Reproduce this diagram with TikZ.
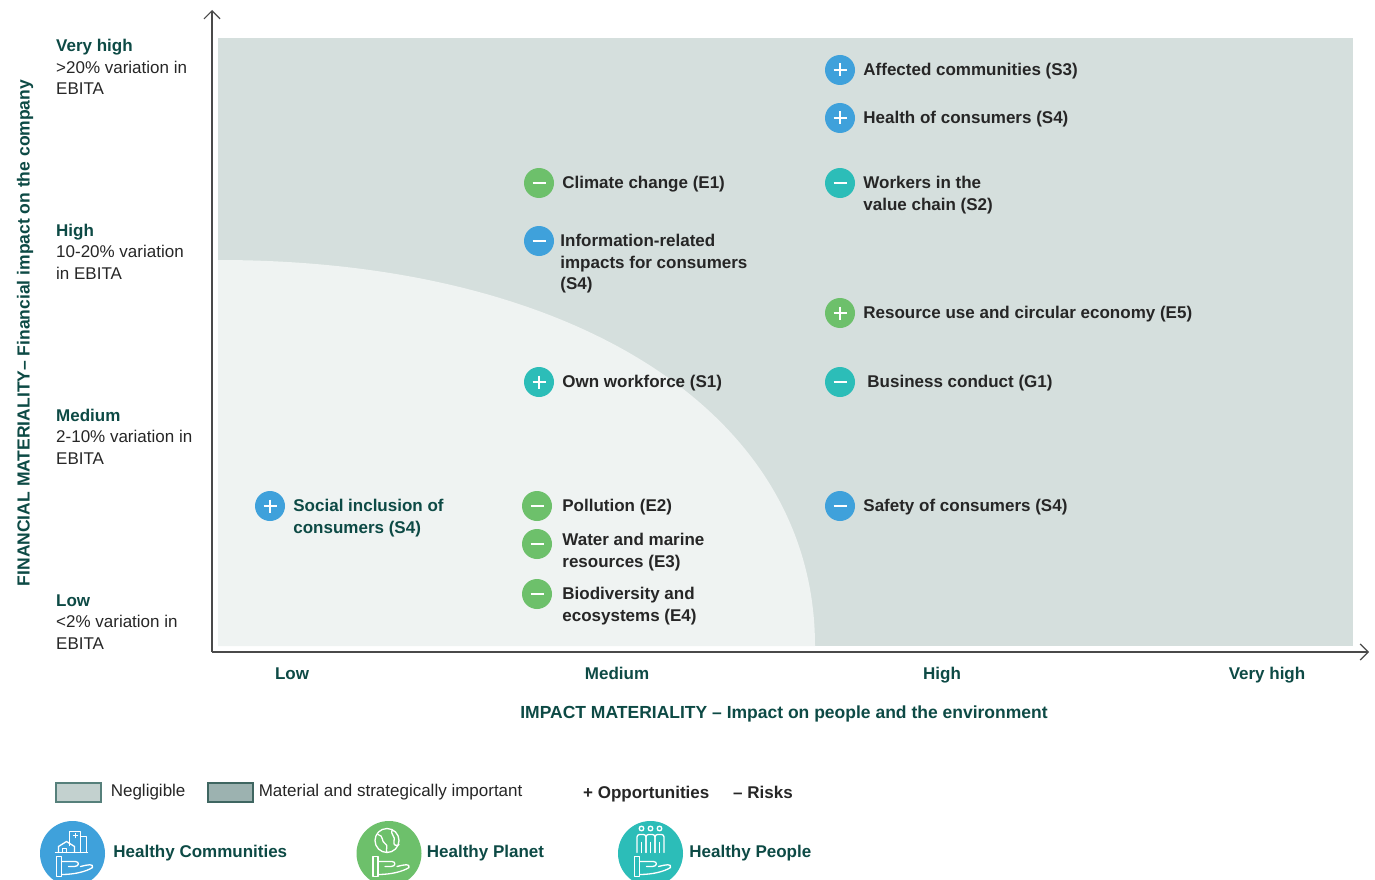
\documentclass[tikz,border=0pt]{standalone}
\usepackage{fontspec}
\setmainfont{Liberation Sans}
\usetikzlibrary{positioning,arrows.meta}
\definecolor{deep}{HTML}{0D4A45}
\definecolor{ink}{HTML}{262626}
\definecolor{panelC}{HTML}{D5DFDD}
\definecolor{negC}{HTML}{EFF3F2}
\definecolor{axisC}{HTML}{4A4A4A}
\definecolor{blueC}{HTML}{3FA1DB}
\definecolor{greenC}{HTML}{6DC06B}
\definecolor{tealC}{HTML}{2CBDB8}
\definecolor{negSw}{HTML}{C3D1CF}
\definecolor{negEdge}{HTML}{56807B}
\definecolor{matSw}{HTML}{9CB2B0}
\definecolor{matEdge}{HTML}{3F6661}

\begin{document}
\begin{tikzpicture}[x=1pt, y=-1pt,
  axis/.style={draw=axisC, line width=1.4pt, -{Straight Barb[length=8pt,width=16pt,line width=1.2pt]}},
  bubble/.style={circle, fill=#1, minimum size=30pt, inner sep=0pt},
  opp/.style={bubble=#1, path picture={\draw[white, line width=2.6pt] (path picture bounding box.center) +(-6.5,0) -- +(6.5,0) +(0,-6.5) -- +(0,6.5);}},
  risk/.style={bubble=#1, path picture={\draw[white, line width=2.6pt] (path picture bounding box.center) +(-6.5,0) -- +(6.5,0);}},
  topic/.style={inner sep=0pt, align=left, text=ink, font=\fontsize{17}{21.5}\selectfont\bfseries},
  level/.style={anchor=base west, inner sep=0pt, align=left, text=ink, font=\fontsize{17}{21.3}\selectfont},
  tick/.style={anchor=base, inner sep=0pt, text=deep, font=\fontsize{17}{20}\selectfont\bfseries},
  title/.style={inner sep=0pt, text=deep, font=\fontsize{17.5}{20}\selectfont\bfseries},
  swatch/.style={draw=#1, line width=1.2pt, minimum width=45pt, minimum height=19pt, inner sep=0pt},
  legtext/.style={inner sep=0pt, text=ink, font=\fontsize{17}{20}\selectfont},
  goal/.style={circle, fill=#1, minimum size=65pt, inner sep=0pt},
  goaltext/.style={inner sep=0pt, text=deep, font=\fontsize{17}{20}\selectfont\bfseries},
  glyph/.style={white, line width=1.3pt, line cap=round, line join=round}]
\useasboundingbox (0,0) rectangle (1375,880);

\fill[panelC] (218,38) rectangle (1353,646);
\fill[negC] (218,646) -- (218,260) .. controls (576,260) and (815,414) .. (815,646) -- cycle;

\coordinate (o) at (212,652);
\coordinate (ytip) at (212,10);
\coordinate (xtip) at (1369,652);
\draw[axis] (o) -- (ytip);
\draw[axis] (o) -- (xtip);

\node[title, rotate=90] (ytitle) at (25,333) {FINANCIAL MATERIALITY– Financial impact on the company};
\node[level] (vhigh) at (56,94.6) {\textcolor{deep}{\bfseries Very high}\\>20\% variation in\\EBITA};
\node[level] (high) at (56,279) {\textcolor{deep}{\bfseries High}\\10-20\% variation\\in EBITA};
\node[level] (med) at (56,464) {\textcolor{deep}{\bfseries Medium}\\2-10\% variation in\\EBITA};
\node[level] (low) at (56,649) {\textcolor{deep}{\bfseries Low}\\<2\% variation in\\EBITA};

\node[tick] (xlow) at (292,679) {Low};
\node[tick] (xmed) at (617,679) {Medium};
\node[tick] (xhigh) at (942,679) {High};
\node[tick] (xvhigh) at (1267,679) {Very high};
\node[title] (xtitle) at (784,714) {IMPACT MATERIALITY – Impact on people and the environment};

\node[opp=blueC] (s3) at (840,70) {};
\node[topic, right=8pt of s3, anchor=base west, yshift=-5.5pt] (s3l) {Affected communities (S3)};
\node[opp=blueC] (s4h) at (840,118) {};
\node[topic, right=8pt of s4h, anchor=base west, yshift=-5.5pt] (s4hl) {Health of consumers (S4)};
\node[risk=greenC] (e1) at (539,183) {};
\node[topic, right=8pt of e1, anchor=base west, yshift=-5.5pt] (e1l) {Climate change (E1)};
\node[risk=tealC] (s2) at (840,183) {};
\node[topic, right=8pt of s2, anchor=base west, yshift=-27pt] (s2l) {Workers in the\\value chain (S2)};
\node[risk=blueC] (s4i) at (539,241) {};
\node[topic, right=6pt of s4i, anchor=base west, yshift=-48.5pt] (s4il) {Information-related\\impacts for consumers\\(S4)};
\node[opp=greenC] (e5) at (840,313) {};
\node[topic, right=8pt of e5, anchor=base west, yshift=-5.5pt] (e5l) {Resource use and circular economy (E5)};
\node[opp=tealC] (s1) at (539,382) {};
\node[topic, right=8pt of s1, anchor=base west, yshift=-5.5pt] (s1l) {Own workforce (S1)};
\node[risk=tealC] (g1) at (840,382) {};
\node[topic, right=12pt of g1, anchor=base west, yshift=-5.5pt] (g1l) {Business conduct (G1)};
\node[opp=blueC] (s4s) at (270,506) {};
\node[topic, text=deep, right=8pt of s4s, anchor=base west, yshift=-27pt] (s4sl) {Social inclusion of\\consumers (S4)};
\node[risk=greenC] (e2) at (537,506) {};
\node[topic, right=10pt of e2, anchor=base west, yshift=-5.5pt] (e2l) {Pollution (E2)};
\node[risk=greenC] (e3) at (537,544) {};
\node[topic, right=10pt of e3, anchor=base west, yshift=-23pt] (e3l) {Water and marine\\resources (E3)};
\node[risk=greenC] (e4) at (537,594) {};
\node[topic, right=10pt of e4, anchor=base west, yshift=-27pt] (e4l) {Biodiversity and\\ecosystems (E4)};
\node[risk=blueC] (s4f) at (840,506) {};
\node[topic, right=8pt of s4f, anchor=base west, yshift=-5.5pt] (s4fl) {Safety of consumers (S4)};

\node[swatch=negEdge, fill=negSw] (negbox) at (78.5,792.5) {};
\node[legtext, right=9pt of negbox] (negl) {Negligible};
\node[swatch=matEdge, fill=matSw] (matbox) at (230.5,792.5) {};
\node[legtext, right=5pt of matbox] (matl) {Material and strategically important};
\node[legtext, font=\fontsize{17}{20}\selectfont\bfseries, anchor=base west] (oppl) at (583,798.5) {+ Opportunities};
\node[legtext, font=\fontsize{17}{20}\selectfont\bfseries, anchor=base west] (riskl) at (733,798.5) {– Risks};

\node[goal=blueC] (hc) at (72.5,853.5) {};
\node[goaltext, right=8pt of hc] (hcl) {Healthy Communities};
\node[goal=greenC] (hpl) at (389,853.5) {};
\node[goaltext, right=5pt of hpl] (hpll) {Healthy Planet};
\node[goal=tealC] (hpe) at (650.5,853.5) {};
\node[goaltext, right=6pt of hpe] (hpel) {Healthy People};

\foreach \c in {hc,hpl,hpe}{
  \begin{scope}[shift={(\c)}, glyph]
    \draw (-16,3) rectangle (-11,23);
    \draw (-11,8) -- (3,8) .. controls (7,8) and (7,13) .. (2,13) -- (-4,13);
    \draw (-11,21) .. controls (2,21) and (14,18) .. (20,14) .. controls (21,10) and (16,11) .. (8,13);
  \end{scope}
}
\begin{scope}[shift={(hc)}, glyph]
  \draw (-3,-8) -- (-3,-22) -- (8,-22) -- (8,-1);
  \draw (8,-17) -- (14,-17) -- (14,-1);
  \draw (1,-18) -- (5,-18) (3,-20) -- (3,-16);
  \draw (-14,-1) -- (-14,-7) -- (-6,-12) -- (2,-7) -- (2,-1);
  \draw (-17,-1) -- (15,-1);
  \draw (-10,-1) -- (-10,-5) -- (-6,-5) -- (-6,-1);
\end{scope}
\begin{scope}[shift={(hpl)}, glyph]
  \draw (-2,-13) circle (12);
  \draw (-11,-19) .. controls (-5,-18) and (-8,-12) .. (-4,-10) .. controls (0,-8) and (-4,-4) .. (-2,-1);
  \draw (3,-24) .. controls (1,-19) and (7,-17) .. (5,-12) .. controls (4,-8) and (8,-7) .. (10,-9);
\end{scope}
\begin{scope}[shift={(hpe)}, glyph]
  \foreach \p in {-9,0,9}{
    \draw (\p,-25) circle (2.3);
    \draw[rounded corners=2.5] ({\p-4.5},-1) -- ({\p-4.5},-19) -- ({\p+4.5},-19) -- ({\p+4.5},-1);
    \draw (\p,-1) -- (\p,-11);
  }
\end{scope}
\end{tikzpicture}
\end{document}
